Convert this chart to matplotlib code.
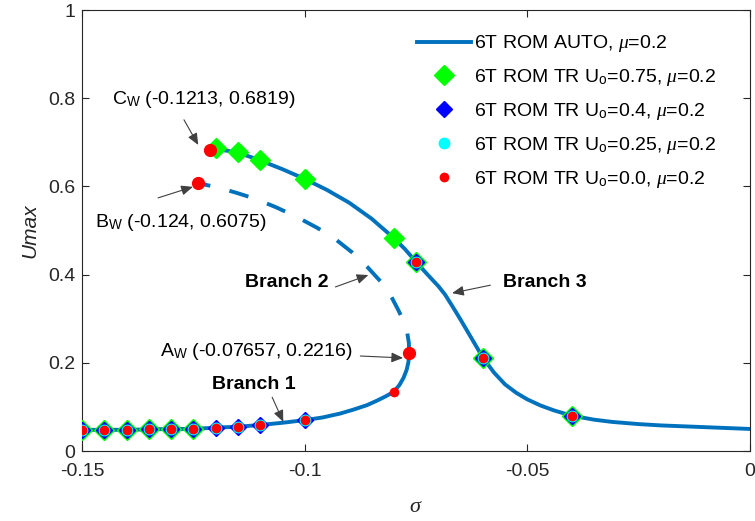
import numpy as np
import matplotlib
matplotlib.use('Agg')
import matplotlib.pyplot as plt

plt.rcParams['font.family'] = ['Liberation Sans', 'DejaVu Sans']
plt.rcParams['mathtext.fontset'] = 'custom'
plt.rcParams['mathtext.rm'] = 'Liberation Sans'
plt.rcParams['mathtext.sf'] = 'Liberation Sans'
plt.rcParams['mathtext.it'] = 'Liberation Serif:italic'

# AUTO continuation: lower stable branch (Branch 1)
branch1_sigma = [-0.150, -0.145, -0.140, -0.135, -0.130, -0.125, -0.120, -0.115,
                 -0.110, -0.105, -0.100, -0.096, -0.092, -0.089, -0.086, -0.0838,
                 -0.0818, -0.0800, -0.0787, -0.0778, -0.0771, -0.0767, -0.07657]
branch1_U = [0.048, 0.048, 0.048, 0.049, 0.050, 0.050, 0.053, 0.055,
             0.059, 0.064, 0.070, 0.076, 0.085, 0.094, 0.104, 0.114,
             0.124, 0.134, 0.150, 0.166, 0.184, 0.202, 0.2216]

# unstable branch (Branch 2), dashed, from A_W back to B_W
branch2_sigma = [-0.07657, -0.0766, -0.0770, -0.0778, -0.0790, -0.0808, -0.0830,
                 -0.0860, -0.0893, -0.0928, -0.0970, -0.1018, -0.1065, -0.1111,
                 -0.1155, -0.1197, -0.1240]
branch2_U = [0.2216, 0.245, 0.270, 0.295, 0.320, 0.355, 0.385,
             0.418, 0.450, 0.478, 0.505, 0.531, 0.553, 0.572,
             0.586, 0.598, 0.6075]

# upper stable branch (Branch 3), from C_W to sigma = 0
branch3_sigma = [-0.1213, -0.1200, -0.1175, -0.1150, -0.1125, -0.1100, -0.1050,
                 -0.1000, -0.0950, -0.0900, -0.0850, -0.0800, -0.0775, -0.0750,
                 -0.0725, -0.0700, -0.0685, -0.0670, -0.0650, -0.0625, -0.0600,
                 -0.0575, -0.0550, -0.0525, -0.0500, -0.0470, -0.0440, -0.0400,
                 -0.0350, -0.0310, -0.0250, -0.0200, -0.0150, -0.0100, -0.0050, 0.0]
branch3_U = [0.6819, 0.684, 0.681, 0.676, 0.668, 0.659, 0.639,
             0.617, 0.592, 0.563, 0.527, 0.483, 0.458, 0.429,
             0.401, 0.374, 0.355, 0.331, 0.298, 0.255, 0.212,
             0.178, 0.151, 0.132, 0.117, 0.103, 0.092, 0.080,
             0.071, 0.066, 0.061, 0.058, 0.056, 0.054, 0.052, 0.050]

# time-response runs for different initial amplitudes
tr075_sigma = [-0.15, -0.145, -0.14, -0.135, -0.13, -0.125,
               -0.12, -0.115, -0.11, -0.10, -0.08, -0.075, -0.06, -0.04]
tr075_U = [0.048, 0.048, 0.048, 0.049, 0.050, 0.050,
           0.687, 0.677, 0.659, 0.617, 0.483, 0.429, 0.211, 0.079]

tr04_sigma = [-0.15, -0.145, -0.14, -0.135, -0.13, -0.125, -0.12, -0.115, -0.11,
              -0.10, -0.075, -0.06, -0.04]
tr04_U = [0.048, 0.048, 0.048, 0.049, 0.050, 0.050, 0.053, 0.055, 0.059,
          0.070, 0.429, 0.211, 0.079]

tr025_sigma = tr04_sigma
tr025_U = tr04_U

tr00_sigma = [-0.15, -0.145, -0.14, -0.135, -0.13, -0.125, -0.12, -0.115, -0.11,
              -0.10, -0.08, -0.075, -0.06, -0.04]
tr00_U = [0.048, 0.048, 0.048, 0.049, 0.050, 0.050, 0.053, 0.055, 0.059,
          0.070, 0.133, 0.429, 0.211, 0.079]

# bifurcation points
point_names = ['A', 'B', 'C']
point_sigma = [-0.07657, -0.124, -0.1213]
point_U = [0.2216, 0.6075, 0.6819]

line_color = '#0072BD'
fig = plt.figure(figsize=(7.55, 5.21), dpi=100)
ax = fig.add_axes([82 / 755, 70 / 521, 668 / 755, 441 / 521])

lw = 2.8
ax.plot(branch1_sigma, branch1_U, '-', color=line_color, lw=lw,
        label=r'6T ROM AUTO, $\mu$=0.2', zorder=2)
ax.plot(branch2_sigma, branch2_U, color=line_color, lw=lw,
        dashes=(5.1, 5.1), dash_capstyle='butt', zorder=2)
ax.plot(branch3_sigma, branch3_U, '-', color=line_color, lw=lw, zorder=2)

ax.plot(tr075_sigma, tr075_U, 'D', ms=10, color='#00FF00', mec='#00FF00',
        label=r'6T ROM TR U$_\mathrm{o}$=0.75, $\mu$=0.2', zorder=3)
ax.plot(tr04_sigma, tr04_U, 'D', ms=8, color='#0000FF', mec='#0000FF',
        label=r'6T ROM TR U$_\mathrm{o}$=0.4, $\mu$=0.2', zorder=4)
ax.plot(tr025_sigma, tr025_U, 'o', ms=7.5, color='#00FFFF', mec='#00FFFF',
        label=r'6T ROM TR U$_\mathrm{o}$=0.25, $\mu$=0.2', zorder=5)
ax.plot(tr00_sigma, tr00_U, 'o', ms=6, color='#FF0000', mec='#FF0000',
        label=r'6T ROM TR U$_\mathrm{o}$=0.0, $\mu$=0.2', zorder=6)
ax.plot(point_sigma, point_U, 'o', ms=8.5, color='#FF0000', mec='#FF0000', zorder=7)

# annotations with arrows
arrow = dict(arrowstyle='-|>,head_length=0.7,head_width=0.3', color='#404040',
             lw=0.8, shrinkA=0, shrinkB=0)
fs = 14
labels = {
    'A': (point_names[0] + r'$_\mathrm{W}$ (%s, %s)' % (point_sigma[0], point_U[0])),
    'B': (point_names[1] + r'$_\mathrm{W}$ (%s, %s)' % (point_sigma[1], point_U[1])),
    'C': (point_names[2] + r'$_\mathrm{W}$ (%s, %s)' % (point_sigma[2], point_U[2])),
}
ax.text(-0.1433, 0.796, labels['C'], fontsize=fs, ha='left', va='center')
ax.annotate('', xy=(-0.1239, 0.694), xytext=(-0.1271, 0.751), arrowprops=arrow)
ax.text(-0.1471, 0.519, labels['B'], fontsize=fs, ha='left', va='center')
ax.annotate('', xy=(-0.1251, 0.599), xytext=(-0.1329, 0.574), arrowprops=arrow)
ax.text(-0.0891, 0.2245, labels['A'], fontsize=fs, ha='right', va='center')
ax.annotate('', xy=(-0.0779, 0.211), xytext=(-0.0875, 0.2154), arrowprops=arrow)

ax.text(-0.1208, 0.150, 'Branch 1', fontsize=fs, fontweight='bold', ha='left', va='center')
ax.annotate('', xy=(-0.1048, 0.066), xytext=(-0.1073, 0.122), arrowprops=arrow)
ax.text(-0.0947, 0.381, 'Branch 2', fontsize=fs, fontweight='bold', ha='right', va='center')
ax.annotate('', xy=(-0.0857, 0.399), xytext=(-0.0931, 0.372), arrowprops=arrow)
ax.text(-0.0554, 0.381, 'Branch 3', fontsize=fs, fontweight='bold', ha='left', va='center')
ax.annotate('', xy=(-0.0669, 0.358), xytext=(-0.0583, 0.376), arrowprops=arrow)

ax.set_xlim(-0.15, 0)
ax.set_ylim(0, 1)
ax.set_xticks([-0.15, -0.1, -0.05, 0])
ax.set_xticklabels(['-0.15', '-0.1', '-0.05', '0'])
ax.set_yticks([0, 0.2, 0.4, 0.6, 0.8, 1])
ax.set_yticklabels(['0', '0.2', '0.4', '0.6', '0.8', '1'])
ax.tick_params(direction='in', length=5, width=0.8, labelsize=fs, colors='#262626',
               top=True, right=True)
ax.tick_params(axis='x', pad=9)
ax.tick_params(axis='y', pad=5)
for s in ax.spines.values():
    s.set_color('#262626')
    s.set_linewidth(0.8)

ax.set_xlabel(r'$\sigma$', fontsize=16, color='#262626', labelpad=11)
ax.set_ylabel('Umax', fontsize=15, fontstyle='italic', color='#262626', labelpad=6)

ax.legend(loc='upper left', bbox_to_anchor=(0.5015, 0.947), frameon=False,
          borderpad=0, fontsize=fs, handlelength=2.8, handletextpad=0.15,
          labelspacing=0.66, numpoints=1, borderaxespad=0)

fig.savefig('out.png', dpi=100)
